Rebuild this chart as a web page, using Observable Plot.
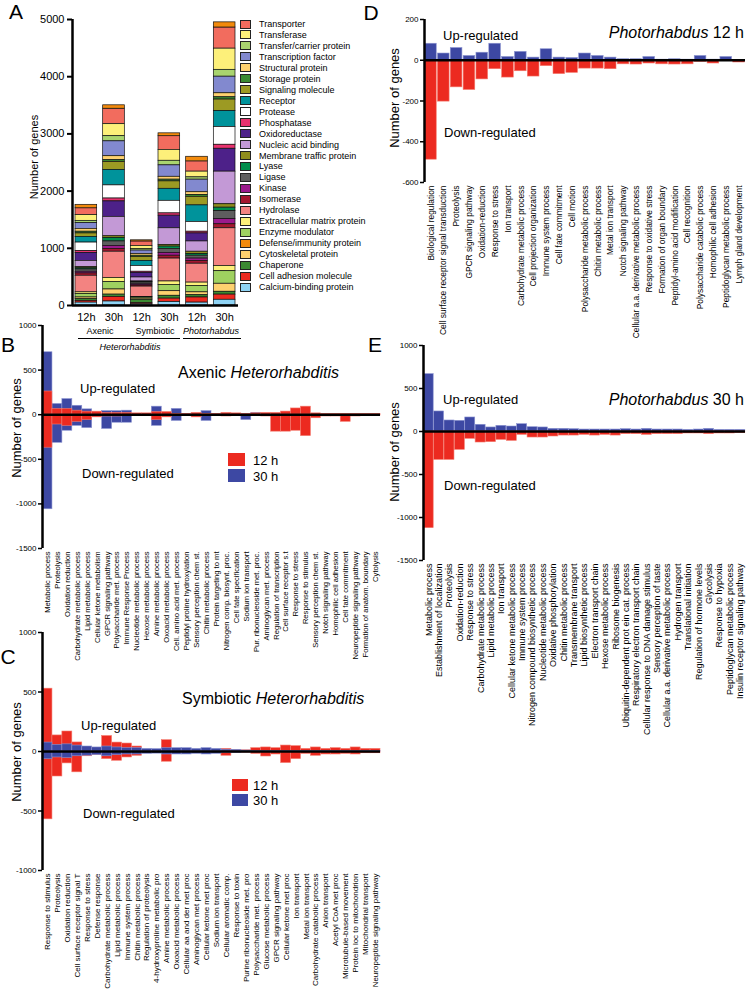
<!DOCTYPE html>
<html><head><meta charset="utf-8">
<script src="https://cdn.jsdelivr.net/npm/d3@7"></script>
<script src="https://cdn.jsdelivr.net/npm/@observablehq/plot@0.6"></script>
<style>
body{margin:0;background:#fff;font-family:"Liberation Sans",Arial,Helvetica,sans-serif;color:#000;}
#fig{position:relative;width:746px;height:992px;overflow:hidden;background:#fff;}
.abs{position:absolute;white-space:nowrap;line-height:1;}
.panel{position:absolute;}
.panel svg{overflow:visible;max-width:none;}
</style></head><body><div id="fig"></div>
<script>
const FONT = '"Liberation Sans", Arial, Helvetica, sans-serif';
const RED = "#ec2a20", BLUE = "#3d48a3", RED_EDGE = "#f47a6e", BLUE_EDGE = "#8b93d0";

// ---------- Panel A data ----------
const aSamples = ["Axenic 12h","Axenic 30h","Symbiotic 12h","Symbiotic 30h","Photorhabdus 12h","Photorhabdus 30h"];
const aTickLabels = ["12h","30h","12h","30h","12h","30h"];
const aCategories = ["Transporter","Transferase","Transfer/carrier protein","Transcription factor","Structural protein","Storage protein","Signaling molecule","Receptor","Protease","Phosphatase","Oxidoreductase","Nucleic acid binding","Membrane traffic protein","Lyase","Ligase","Kinase","Isomerase","Hydrolase","Extracellular matrix protein","Enzyme modulator","Defense/immunity protein","Cytoskeletal protein","Chaperone","Cell adhesion molecule","Calcium-binding protein"];
const aColors = ["#f26c5e","#fdf07a","#a9d46f","#8289cf","#fed16f","#3b8a32","#9c9a23","#00939b","#ffffff","#e8336f","#4d2189","#c399d6","#8f8d1d","#008d4c","#5e5e5e","#9b1b8c","#a3182f","#f38381","#fdf07a","#9fd160","#f28a0c","#fed16f","#3b8a32","#ec2a20","#8fd3f4"];
const axenic12 = [120,100,40,100,50,30,60,100,150,30,140,110,20,20,40,30,40,290,30,60,60,30,30,30,50];
const axenic30 = [270,210,90,260,70,30,140,270,230,50,270,340,30,60,80,50,50,460,70,130,60,90,40,80,70];
const symbiotic12 = [80,50,30,60,30,20,70,90,100,20,80,70,10,10,30,20,20,180,10,20,20,20,60,20,20];
const symbiotic30 = [240,190,80,200,50,30,130,210,220,40,220,290,30,40,70,50,50,400,60,110,50,80,50,60,60];
const photo12 = [180,100,40,220,50,30,150,290,170,30,140,180,40,30,50,40,50,330,60,110,80,50,40,90,50];
const photo30 = [370,370,120,290,70,40,200,280,310,70,400,570,60,60,140,90,70,660,90,220,90,140,50,90,100];
const aValues = [axenic12, axenic30, symbiotic12, symbiotic30, photo12, photo30];

// ---------- Panel B data (Axenic Heterorhabditis) ----------
const bCategories = ["Metabolic process","Proteolysis","Oxidation reduction","Carbohydrate metabolic process","Lipid metabolic process","Cellular ketone metabolism","GPCR signaling pathway","Polysaccharide met. process","Immune Response Process","Nucleotide metabolic process","Hexose metabolic process","Amine metabolic process","Oxoacid metabolic process","Cell. amino acid met. process","Peptidyl proline hydroxylation","Sensory perception chem st.","Chitin metabolic process","Protein targeting to mt","Nitrogen comp. biosynt. proc.","Cell fate specification","Sodium ion transport","Pur. ribonucleoside met. proc.","Aminoglycan met. process","Regulation of transcription","Cell surface receptor s.t","Response to stress","Response to stimulus","Sensory perception chem st.","Notch signaling pathway","Homophilic cell adhesion","Cell fate commitment","Neuropeptide signaling pathway","Formation of anatom. boundary","Cytolysis"];
const b12Up = [260,64,64,45,34,34,20,20,20,15,15,30,30,10,10,20,10,10,20,15,10,15,20,20,35,70,90,15,10,10,10,10,10,10];
const b12Down = [-370,-110,-125,-80,-60,-30,-20,-20,-15,-15,-15,-60,-30,-10,-10,-30,-10,-10,-20,-15,-10,-10,-20,-190,-190,-180,-240,-40,-20,-20,-80,-20,-15,-10];
const b30Up = [700,120,175,100,60,20,40,40,45,10,10,90,15,65,5,10,40,5,5,5,10,20,5,0,0,0,0,0,0,0,0,0,0,0];
const b30Down = [-1060,-315,-180,-125,-150,-20,-160,-90,-90,-10,-10,-125,-15,-70,-5,-10,-70,-5,-5,-5,-60,-5,-5,0,0,0,0,0,0,0,0,0,0,0];

// ---------- Panel C data (Symbiotic Heterorhabditis) ----------
const cCategories = ["Response to stimulus","Proteolysis","Oxidation reduction","Cell surface receptor signal T","Response to stress","Defense response","Carbohydrate metabolic process","Lipid metabolic process","Immune system process","Chitin metabolic process","Regulation of proteolysis","4-hydroxyproline metabolic pro","Amine metabolic process","Oxoacid metabolic process","Cellular aa and der met proc","Aminoglycan met process","Cellular ketone met proc","Sodium ion transport","Cellular aromatic comp.","Response to toxin","Purine ribonucleoside met. pro","Polysaccharide met. process","Glucose metabolic process","GPCR signaling pathway","Cellular ketone met proc","Ion transport","Metal ion transport","Carbohydrate catabolic process","Anion transport","Acetyl CoA met proc","Microtubule-based movement","Protein loc to mitochondrion","Mitochondrial transport","Neuropeptide signaling pathway"];
const c12Up = [528,135,168,76,35,15,130,75,67,42,10,10,95,10,10,10,10,10,22,10,10,28,34,28,50,45,22,34,22,28,22,34,22,22];
const c12Down = [-570,-210,-100,-175,-40,-30,-64,-78,-50,-36,-10,-10,-86,-10,-10,-10,-10,-10,-36,-10,-10,-20,-42,-25,-97,-64,-20,-36,-25,-25,-20,-25,-15,-15];
const c30Up = [75,55,60,50,42,34,42,34,28,28,22,20,28,28,28,22,28,22,15,14,8,5,5,5,5,5,5,5,5,5,5,5,5,5];
const c30Down = [-65,-50,-55,-40,-35,-30,-40,-30,-25,-25,-20,-18,-25,-25,-25,-20,-25,-20,-12,-12,-8,-5,-5,-5,-5,-5,-5,-5,-5,-5,-5,-5,-5,-5];

// ---------- Panel D data (Photorhabdus 12 h) ----------
const dCategories = ["Biological regulation","Cell surface receptor signal transduction","Proteolysis","GPCR signaling pathway","Oxidation-reduction","Response to stress","Ion transport","Carbohydrate metabolic process","Cell projection organization","Immune system process","Cell fate commitment","Cell motion","Polysaccharide metabolic process","Chitin metabolic process","Metal ion transport","Notch signaling pathway","Cellular a.a. derivative metabolic process","Response to oxidative stress","Formation of organ boundary","Peptidyl-amino acid modification","Cell recognition","Polysaccharide catabolic process","Homophilic cell adhesion","Peptidoglycan metabolic process","Lymph gland development"];
const dUp = [81,33,60,21,37,81,16,41,13,54,13,11,33,21,13,5,5,16,3,5,3,21,3,16,0];
const dDown = [-488,-203,-133,-146,-94,-44,-85,-54,-80,-29,-68,-62,-41,-41,-44,-20,-21,-16,-20,-21,-20,-8,-16,-3,-11];

// ---------- Panel E data (Photorhabdus 30 h) ----------
const eCategories = ["Metabolic process","Establishment of localization","Proteolysis","Oxidation-reduction","Response to stress","Carbohydrate metabolic process","Lipid metabolic process","Ion transport","Cellular ketone metabolic process","Immune system process","Nitrogen compound biosynthetic process","Nucleotide metabolic process","Oxidative phosphorylation","Chitin metabolic process","Transmembrane transport","Lipid biosynthetic process","Electron transport chain","Hexose metabolic process","Ribosome biogenesis","Ubiquitin-dependent prot ein cat. process","Respiratory electron transport chain","Cellular response to DNA damage stimulus","Sensory perception of taste","Cellular a.a. derivative metabolic process","Hydrogen transport","Translational initiation","Regulation of hormone levels","Glycolysis","Response to hypoxia","Peptidoglycan metabolic process","Insulin receptor signaling pathway"];
const eUp = [667,233,128,124,163,78,47,66,58,85,50,47,31,31,27,23,23,23,23,27,23,31,23,23,23,19,23,31,19,19,19];
const eDown = [-1124,-330,-330,-213,-85,-128,-124,-97,-109,-39,-70,-70,-58,-47,-47,-39,-47,-39,-47,-31,-31,-39,-31,-31,-31,-23,-23,-31,-23,-23,-19];

// ---------- helpers ----------
const fig = document.getElementById("fig");
const plain = d => String(d);
function place(node, left, top) {
  const d = document.createElement("div");
  d.className = "panel"; d.style.left = left + "px"; d.style.top = top + "px";
  d.appendChild(node); fig.appendChild(d);
}
function addText(html, x, y, size, {anchor = "start", rotate = 0} = {}) {
  const d = document.createElement("div");
  d.className = "abs"; d.innerHTML = html;
  d.style.left = x + "px"; d.style.top = y + "px"; d.style.fontSize = size + "px";
  const tx = rotate ? "-50%" : anchor === "middle" ? "-50%" : anchor === "end" ? "-100%" : "0";
  d.style.transform = `translate(${tx}, -50%)` + (rotate ? ` rotate(${rotate}deg)` : "");
  fig.appendChild(d);
}
function addBox(x, y, w, h, color, border) {
  const d = document.createElement("div");
  d.className = "abs";
  Object.assign(d.style, {left: x + "px", top: y + "px", width: w + "px", height: h + "px", background: color, boxSizing: "border-box", border: border || "none"});
  fig.appendChild(d);
}
function addLine(x, y, w) {
  const d = document.createElement("div");
  d.className = "abs";
  Object.assign(d.style, {left: x + "px", top: y + "px", width: w + "px", height: "0", borderTop: "1px solid #000"});
  fig.appendChild(d);
}

// ---------- Panel A ----------
const aTable = aSamples.flatMap((s, i) => aCategories.map((c, j) => ({pos: i, x1: i, x2: i + 1, category: c, value: aValues[i][j]})));
const stackOrder = aCategories.slice().reverse().filter(c => c !== "Defense/immunity protein").concat(["Defense/immunity protein"]);
const plotA = Plot.plot({
  width: 245, height: 360, marginLeft: 72, marginRight: 7, marginTop: 19, marginBottom: 55,
  style: {fontFamily: FONT, background: "transparent", overflow: "visible"},
  x: {domain: [0, aSamples.length]},
  y: {domain: [0, 5000]},
  color: {domain: aCategories, range: aColors},
  marks: [
    Plot.rectY(aTable, Plot.stackY({x: "pos", x1: "x1", x2: "x2", y: "value", z: "category", fill: "category", order: stackOrder, stroke: "#111", strokeWidth: 0.7, insetLeft: 3, insetRight: 3})),
    Plot.axisY({ticks: d3.range(0, 5001, 1000), tickFormat: plain, tickSize: 5, tickPadding: 3, fontSize: 11, label: null, strokeWidth: 2}),
    Plot.axisX({ticks: d3.range(aSamples.length).map(i => i + 0.5), tickFormat: v => aTickLabels[Math.floor(v)], tickSize: 0, tickPadding: 8, fontSize: 11, label: null}),
    Plot.ruleX([0], {y1: 0, y2: 5000, strokeWidth: 2.5}),
    Plot.ruleY([0], {strokeWidth: 2.5})
  ]
});
place(plotA, 0, 0);
addText("A", 16, 11, 21, {anchor: "middle"});
addText("Number of genes", 34, 157, 11, {rotate: -90});
addText("Axenic", 100, 331, 9, {anchor: "middle"});
addText("Symbiotic", 155, 331, 9, {anchor: "middle"});
addText("<i>Photorhabdus</i>", 211, 331, 9, {anchor: "middle"});
addLine(78, 338, 102);
addLine(183, 338, 58);
addText("<i>Heterorhabditis</i>", 130, 347, 9, {anchor: "middle"});
aCategories.forEach((c, i) => {
  addBox(240, 19.5 + i * 10.96, 11, 9, aColors[i], "1px solid #222");
  addText(c, 259, 24 + i * 10.96, 9);
});

// ---------- diverging panels ----------
function diverging({cats, series, yDomain, yTicks, width, height, mt, mb, ml, mr, labelSize, inset = 0, tickSize = 8}) {
  const n = cats.length;
  const table = cats.map((c, i) => {
    const row = {i, i2: i + 1, label: c};
    series.forEach(s => { row[s.key] = s.values[i]; });
    return row;
  });
  const marks = series.map(s => Plot.rectY(table, {x1: "i", x2: "i2", y1: 0, y2: s.key, fill: s.fill, stroke: s.edge, strokeWidth: 0.6, insetLeft: inset, insetRight: inset}));
  return Plot.plot({
    width, height, marginTop: mt, marginBottom: mb, marginLeft: ml, marginRight: mr,
    style: {fontFamily: FONT, background: "transparent", overflow: "visible"},
    x: {domain: [0, n]},
    y: {domain: yDomain},
    marks: [
      ...marks,
      Plot.ruleY([0], {strokeWidth: 2.5}),
      Plot.ruleX([0], {strokeWidth: 2.5}),
      Plot.axisY({ticks: yTicks, tickFormat: plain, tickSize: 4, tickPadding: 2, fontSize: tickSize, label: null, strokeWidth: 1.5}),
      Plot.axisX({ticks: d3.range(n).map(i => i + 0.5), tickFormat: v => cats[Math.floor(v)], tickRotate: -90, tickSize: 0, tickPadding: 3, fontSize: labelSize, label: null})
    ]
  });
}

// Panel B
place(diverging({
  cats: bCategories,
  series: [
    {key: "up30", values: b30Up, fill: BLUE, edge: BLUE_EDGE},
    {key: "down30", values: b30Down, fill: BLUE, edge: BLUE_EDGE},
    {key: "up12", values: b12Up, fill: RED, edge: RED_EDGE},
    {key: "down12", values: b12Down, fill: RED, edge: RED_EDGE}
  ],
  yDomain: [-1500, 1000], yTicks: [-1500, -1000, -500, 0, 500, 1000],
  width: 385, height: 350, mt: 5, mb: 122, ml: 42, mr: 5, labelSize: 7.6
}), 0, 320);
addText("B", 8, 344, 21, {anchor: "middle"});
addText("Axenic <i>Heterorhabditis</i>", 178, 373, 16);
addText("Up-regulated", 80, 388, 13);
addText("Down-regulated", 82, 473, 13);
addBox(228, 453, 17, 13, RED);
addBox(228, 469, 17, 13, BLUE);
addText("12 h", 253, 460, 13);
addText("30 h", 253, 476, 13);
addText("Number of genes", 16, 428, 13, {rotate: -90});

// Panel C
place(diverging({
  cats: cCategories,
  series: [
    {key: "up12", values: c12Up, fill: RED, edge: RED_EDGE},
    {key: "down12", values: c12Down, fill: RED, edge: RED_EDGE},
    {key: "up30", values: c30Up, fill: BLUE, edge: BLUE_EDGE},
    {key: "down30", values: c30Down, fill: BLUE, edge: BLUE_EDGE}
  ],
  yDomain: [-1000, 1000], yTicks: [-1000, -500, 0, 500, 1000],
  width: 385, height: 365, mt: 5, mb: 122, ml: 42, mr: 5, labelSize: 8
}), 0, 627);
addText("C", 8, 656, 21, {anchor: "middle"});
addText("Symbiotic <i>Heterorhabditis</i>", 182, 699, 16);
addText("Up-regulated", 81, 725, 13);
addText("Down-regulated", 83, 813, 13);
addBox(232, 779, 16, 12, RED);
addBox(232, 794, 16, 12, BLUE);
addText("12 h", 253, 785, 13);
addText("30 h", 253, 800, 13);
addText("Number of genes", 16, 752, 13, {rotate: -90});

// Panel D
place(diverging({
  cats: dCategories,
  series: [
    {key: "up", values: dUp, fill: BLUE, edge: BLUE_EDGE},
    {key: "down", values: dDown, fill: RED, edge: RED_EDGE}
  ],
  yDomain: [-600, 200], yTicks: [-600, -400, -200, 0, 200],
  width: 371, height: 345, mt: 19, mb: 163, ml: 49, mr: 1, labelSize: 8.4, inset: 0.6
}), 375, 0);
addText("D", 371, 12, 21, {anchor: "middle"});
addText("Up-regulated", 443, 35, 13);
addText("Down-regulated", 444, 132, 13);
addText("<i>Photorhabdus</i> 12 h", 744, 33, 16, {anchor: "end"});
addText("Number of genes", 394, 98, 13, {rotate: -90});

// Panel E
place(diverging({
  cats: eCategories,
  series: [
    {key: "up", values: eUp, fill: BLUE, edge: BLUE_EDGE},
    {key: "down", values: eDown, fill: RED, edge: RED_EDGE}
  ],
  yDomain: [-1500, 1000], yTicks: [-1500, -1000, -500, 0, 500, 1000],
  width: 371, height: 400, mt: 15, mb: 170, ml: 48, mr: 1, labelSize: 9, inset: 0.2
}), 375, 330);
addText("E", 375, 344, 21, {anchor: "middle"});
addText("Up-regulated", 443, 399, 13);
addText("Down-regulated", 444, 485, 13);
addText("<i>Photorhabdus</i> 30 h", 744, 400, 16, {anchor: "end"});
addText("Number of genes", 394, 452, 13, {rotate: -90});
</script></body></html>
